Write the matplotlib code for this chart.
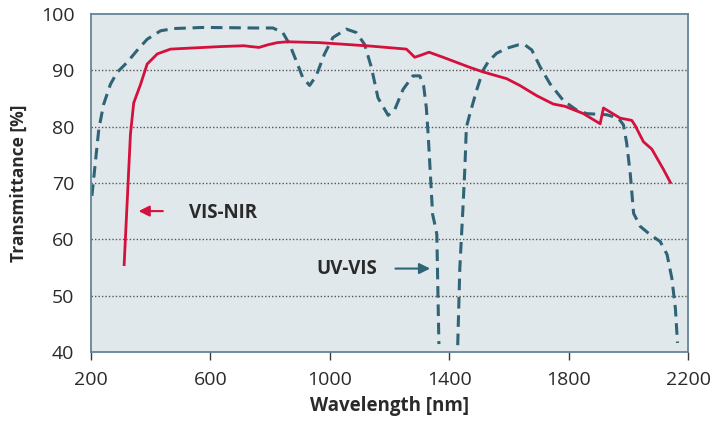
import matplotlib.pyplot as plt

# VIS-NIR (solid red)
vis_nir_nm = [311, 332, 343, 366, 388, 422, 466, 522, 634, 712, 735, 763, 791,
              824, 858, 965, 1133, 1256, 1267, 1284, 1306, 1332, 1379, 1469,
              1513, 1592, 1636, 1692, 1748, 1787, 1849, 1905, 1916, 1972,
              2011, 2022, 2050, 2078, 2117, 2140]
vis_nir_t = [55.5, 78.6, 84.2, 87.5, 91.1, 92.9, 93.75, 93.9, 94.2, 94.35, 94.2, 94.05, 94.5,
             94.9, 95.05, 94.9, 94.3, 93.75, 93.2, 92.3, 92.7, 93.2, 92.3, 90.5,
             89.7, 88.5, 87.3, 85.5, 84.0, 83.6, 82.3, 80.5, 83.3, 81.5,
             81.1, 80.2, 77.3, 76.0, 72.4, 70.1]

# UV-VIS (dashed teal), two branches around the 1400 nm gap
uv_vis_a_nm = [203, 226, 242, 265, 287, 321, 354, 388, 433, 477, 578, 746, 809,
               842, 865, 887, 909, 932, 954, 982, 1010, 1055, 1088, 1116, 1139,
               1161, 1195, 1217, 1245, 1278, 1301, 1314, 1323, 1329, 1344,
               1352, 1358, 1365]
uv_vis_a_t = [67.7, 79.5, 83.9, 87.5, 89.6, 91.4, 93.5, 95.5, 97.0, 97.4, 97.6, 97.5, 97.5,
              96.7, 94.6, 91.7, 88.7, 87.3, 89.0, 92.9, 95.8, 97.3, 96.7, 94.6, 90.5,
              85.1, 82.0, 83.0, 86.6, 89.0, 89.0, 87.2, 83.3, 78.6, 64.4,
              62.5, 60.9, 41.4]
uv_vis_b_nm = [1428, 1435, 1445, 1452, 1457, 1469, 1491, 1513, 1530, 1558, 1592,
               1631, 1653, 1676, 1704, 1737, 1782, 1827, 1860, 1927, 1966, 1983,
               1994, 2006, 2017, 2039, 2073, 2106, 2129, 2145, 2157, 2164]
uv_vis_b_t = [41.2, 54.8, 65.0, 72.7, 79.9, 82.3, 86.4, 90.0, 91.5, 93.0, 93.9,
              94.5, 94.5, 93.6, 90.6, 87.6, 84.6, 82.9, 82.3, 82.1, 81.5, 80.3,
              77.0, 71.5, 64.6, 62.3, 60.8, 59.6, 57.3, 53.1, 47.7, 41.6]

x_ticks = [200, 600, 1000, 1400, 1800, 2200]
y_ticks = [40, 50, 60, 70, 80, 90, 100]

RED = "#d4103c"
TEAL = "#2f6476"
TEXT = "#2a2a2a"

plt.rcParams["font.family"] = ["Open Sans", "DejaVu Sans"]

fig = plt.figure(figsize=(7.11, 4.21), dpi=100)
ax = fig.add_axes([0.128, 0.164, 0.840, 0.803])
ax.set_facecolor("#e1e8ec")

for y in y_ticks[1:-1]:
    ax.axhline(y, color="#555555", lw=1.0, ls=(0, (1, 1.5)), zorder=1)

ax.plot(vis_nir_nm, vis_nir_t, color=RED, lw=2.0, zorder=3, solid_joinstyle="round")
for xs, ys in ((uv_vis_a_nm, uv_vis_a_t), (uv_vis_b_nm, uv_vis_b_t)):
    ax.plot(xs, ys, color=TEAL, lw=2.2, ls=(0, (3.8, 2.2)), zorder=2)

ax.annotate("", xy=(350, 65), xytext=(450, 65),
            arrowprops=dict(arrowstyle="-|>", color=RED, lw=1.5, mutation_scale=16))
ax.text(528, 64.6, "VIS-NIR", color=TEXT, fontsize=13.5, fontweight="bold", va="center")
ax.annotate("", xy=(1345, 54.8), xytext=(1210, 54.8),
            arrowprops=dict(arrowstyle="-|>", color=TEAL, lw=1.5, mutation_scale=16))
ax.text(955, 54.8, "UV-VIS", color=TEXT, fontsize=13.5, fontweight="bold", va="center")

ax.set_xlim(200, 2200)
ax.set_ylim(40, 100)
ax.set_xticks(x_ticks)
ax.set_yticks(y_ticks)
ax.tick_params(axis="x", length=6, width=1, color="#3a3a3a", labelsize=14,
               labelcolor=TEXT, pad=8)
ax.tick_params(axis="y", length=0, labelsize=14, labelcolor=TEXT, pad=12)
for s in ax.spines.values():
    s.set_color("#5f8796")
    s.set_linewidth(1.3)

ax.set_xlabel("Wavelength [nm]", fontsize=13.5, fontweight="bold", color=TEXT, labelpad=5)
ax.set_ylabel("Transmittance [%]", fontsize=12.5, fontweight="bold", color=TEXT, labelpad=9)

fig.savefig("out.png", dpi=100)
